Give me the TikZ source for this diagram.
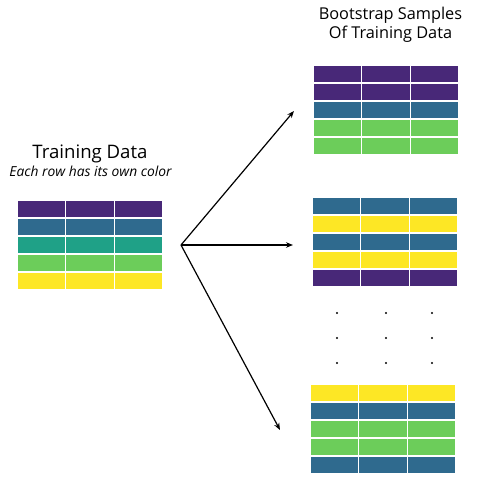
\documentclass[tikz,border=0pt]{standalone}
\usepackage{fontspec}
\setmainfont{Open Sans}
\usetikzlibrary{arrows.meta}
\definecolor{vpurple}{HTML}{482878}
\definecolor{vblue}{HTML}{2F6A8E}
\definecolor{vteal}{HTML}{1FA187}
\definecolor{vgreen}{HTML}{6CCD5A}
\definecolor{vyellow}{HTML}{FDE725}
\tikzset{
  cell/.style={draw=white, line width=1.2pt, fill=#1},
  arr/.style={line width=1.2pt, -{Stealth[length=7pt,width=5.5pt]}},
  dot/.style={circle, fill=black, inner sep=0pt, minimum size=2.4pt},
  title/.style={font=\fontsize{18.6}{22}\selectfont, anchor=base},
  sub/.style={font=\itshape\fontsize{13.8}{16}\selectfont, anchor=base},
  btitle/.style={font=\fontsize{16.3}{19}\selectfont, anchor=base}
}
% #1 x0, #2 y0 (top, downward), #3 width, #4 list of colours
\newcommand{\mytable}[4]{%
  \foreach \c [count=\r from 0] in {#4} {
    \foreach \k in {0,1,2} {
      \path[cell=\c] ({#1+\k*#3/3}, {-(#2+\r*18)}) rectangle ++({#3/3}, -18);
    }
  }
}
\begin{document}
\begin{tikzpicture}[x=1pt,y=1pt]
\useasboundingbox (0,0) rectangle (498,-478);
\fill[white] (0,0) rectangle (498,-478);
% titles
\node[title] (t1) at (90,-159) {Training Data};
\node[sub] (t2) at (90.5,-176.5) {Each row has its own color};
\node[btitle] (t3) at (390.5,-19.5) {Bootstrap Samples};
\node[btitle] (t4) at (390.5,-38.5) {Of Training Data};
% tables
\mytable{17}{200}{146}{vpurple,vblue,vteal,vgreen,vyellow}
\mytable{313}{65}{146}{vpurple,vpurple,vblue,vgreen,vgreen}
\mytable{312}{197}{146}{vblue,vyellow,vblue,vyellow,vpurple}
\mytable{310}{384}{146}{vyellow,vblue,vgreen,vgreen,vblue}
% dots
\foreach \x [count=\i] in {337,386,432} {
  \foreach \y [count=\j] in {313,338,363} {
    \node[dot] (d\i\j) at (\x,-\y) {};
  }
}
% arrows
\coordinate (o) at (181,-245);
\coordinate (a1) at (294,-111);
\coordinate (a2) at (293,-245);
\coordinate (a3) at (280,-430);
\draw[arr] (o) -- (a1);
\draw[arr] (o) -- (a2);
\draw[arr] (o) -- (a3);
\end{tikzpicture}
\end{document}
